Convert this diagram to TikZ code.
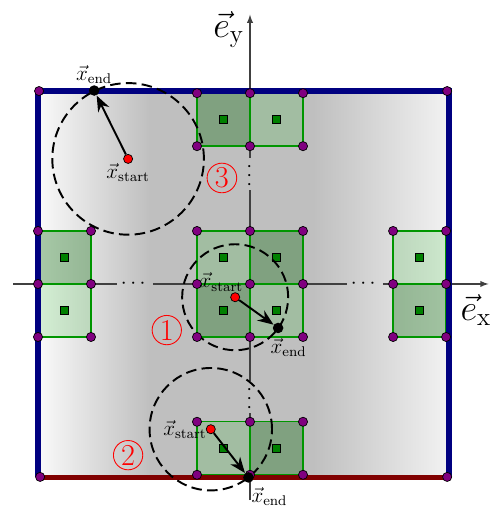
\documentclass[tikz,border=0pt]{standalone}
\usepackage{amsmath}
\usepackage{tikz}
\usetikzlibrary{arrows.meta, positioning}
\definecolor{wallblue}{RGB}{0,0,128}
\definecolor{floorred}{RGB}{128,0,0}
\definecolor{vertexpurple}{RGB}{128,0,128}
\definecolor{cellborder}{RGB}{0,150,0}
\tikzstyle{cell}=[draw=cellborder, line width=0.8pt, fill=green!70!black, fill opacity=0.15]
\tikzstyle{darkcell}=[cell, fill=green!40!black, fill opacity=0.33]
\tikzstyle{cellmid}=[draw=black, fill=green!50!black, rectangle, inner sep=0pt, minimum size=4.6pt, line width=0.5pt]
\tikzstyle{vertex}=[draw=black, fill=vertexpurple, circle, inner sep=0pt, minimum size=5.2pt, line width=0.4pt]
\tikzstyle{startdot}=[draw=black, fill=red, circle, inner sep=0pt, minimum size=5.2pt, line width=0.4pt]
\tikzstyle{enddot}=[fill=black, circle, inner sep=0pt, minimum size=6pt]
\tikzstyle{reach}=[draw=black, line width=1.1pt, dash pattern=on 6pt off 3pt]
\tikzstyle{jump}=[-{Stealth[length=9pt,width=7pt]}, line width=1.1pt]
\tikzstyle{axisline}=[draw=black!75, line width=0.6pt]
\tikzstyle{wall}=[draw=wallblue, line width=3.4pt]
\tikzstyle{casenum}=[circle, draw=red, text=red, inner sep=1pt, line width=0.5pt, font=\LARGE]
\tikzstyle{every node}=[font=\large]

\begin{document}
\begin{tikzpicture}[x=1.06cm, y=1.06cm, >=latex]
    \useasboundingbox (-4.717,-4.189) rectangle (4.736,5.358);
    % domain
    \coordinate (bl) at (-4,-3.65);
    \coordinate (tl) at (-4,3.65);
    \coordinate (tr) at (3.76,3.65);
    \coordinate (br) at (3.76,-3.65);
    \shade[left color=black!2, right color=black!25] (bl) rectangle (-1.9,3.65);
    \fill[black!25] (-1.91,-3.65) rectangle (1.21,3.65);
    \shade[left color=black!25, right color=black!5] (1.2,-3.65) rectangle (tr);
    % axes
    \coordinate (xmin) at (-4.47,0);
    \coordinate (xmax) at (4.5,0);
    \coordinate (ymin) at (0,-4.08);
    \coordinate (ymax) at (0,5.08);
    \node[inner sep=2pt] (xdl) at (-2.17,0) {$\cdots$};
    \node[inner sep=2pt] (xdr) at (2.17,0) {$\cdots$};
    \node[inner sep=1pt, rotate=90] (ydb) at (0,-2.13) {$\cdots$};
    \node[inner sep=1pt, rotate=90] (ydt) at (0,2.08) {$\cdots$};
    \draw[axisline] (xmin) -- (xdl) -- (xdr);
    \draw[axisline, ->] (xdr) -- (xmax);
    \draw[axisline] (ymin) -- (ydb) -- (ydt);
    \draw[axisline, ->] (ydt) -- (ymax);
    \node[font=\huge] (eylab) at (-0.4,4.8) {$\vec{e}_{\mathrm{y}}$};
    \node[font=\huge] (exlab) at (4.26,-0.49) {$\vec{e}_{\mathrm{x}}$};
    % cells
    \foreach \x/\y/\s [count=\i] in {-1/0/cell, 0/0/darkcell, -1/-1/darkcell, 0/-1/cell,
            -1/2.6/darkcell, 0/2.6/cell, -4/0/darkcell, -4/-1/cell,
            2.7/0/cell, 2.7/-1/darkcell, -1/-3.6/cell, 0/-3.6/darkcell}{
        \draw[\s] (\x,\y) rectangle ++(1,1);
        \node[cellmid] (mid\i) at (\x+0.5,\y+0.5) {};
    }
    % boundary
    \draw[wall, draw=floorred, line width=3.2pt] (bl) -- (br);
    \draw[wall] (bl) -- (tl) -- (tr) -- (br);
    % search circles
    \coordinate (p1s) at (-0.28,-0.25);
    \coordinate (p1e) at (0.53,-0.83);
    \coordinate (p2s) at (-0.74,-2.74);
    \coordinate (p2e) at (-0.03,-3.65);
    \coordinate (p3s) at (-2.30,2.36);
    \coordinate (p3e) at (-2.94,3.65);
    \draw[reach] (p1s) circle [radius=1.0];
    \draw[reach] (p2s) circle [radius=1.155];
    \draw[reach] (p3s) circle [radius=1.43];
    % vertices
    \foreach \p [count=\i] in {(-1,1),(0,1),(1,1),(-1,0),(0,0),(1,0),(-1,-1),(0,-1),(1,-1),
            (-1,3.6),(0,3.6),(1,3.6),(-1,2.6),(0,2.6),(1,2.6),
            (-4,1),(-3,1),(-4,0),(-3,0),(-4,-1),(-3,-1),
            (2.7,1),(3.7,1),(2.7,0),(3.7,0),(2.7,-1),(3.7,-1),
            (-1,-2.6),(0,-2.6),(1,-2.6),(-1,-3.6),(0,-3.6),(1,-3.6),
            (-3.98,3.64),(3.72,3.64),(-3.96,-3.64),(3.72,-3.64)}
        \node[vertex] (v\i) at \p {};
    % moves
    \node[startdot] (s1) at (p1s) {};
    \node[enddot] (e1) at (p1e) {};
    \node[startdot] (s2) at (p2s) {};
    \node[enddot] (e2) at (p2e) {};
    \node[startdot] (s3) at (p3s) {};
    \node[enddot] (e3) at (p3e) {};
    \draw[jump] (s1) -- (e1);
    \draw[jump] (s2) -- (e2);
    \draw[jump] (s3) -- (e3);
    \node[above left=-2pt and -10pt of s1] (s1lab) {$\vec{x}_{\mathrm{start}}$};
    \node[below=-1pt of e1, xshift=6pt] (e1lab) {$\vec{x}_{\mathrm{end}}$};
    \node[left=-4pt of s2] (s2lab) {$\vec{x}_{\mathrm{start}}$};
    \node[below right=0pt and -4pt of e2] (e2lab) {$\vec{x}_{\mathrm{end}}$};
    \node[below=-4pt of s3] (s3lab) {$\vec{x}_{\mathrm{start}}$};
    \node[above=-3pt of e3] (e3lab) {$\vec{x}_{\mathrm{end}}$};
    % cases
    \node[casenum] (case1) at (-1.57,-0.87) {1};
    \node[casenum] (case2) at (-2.30,-3.23) {2};
    \node[casenum] (case3) at (-0.53,2.0) {3};
\end{tikzpicture}
\end{document}
